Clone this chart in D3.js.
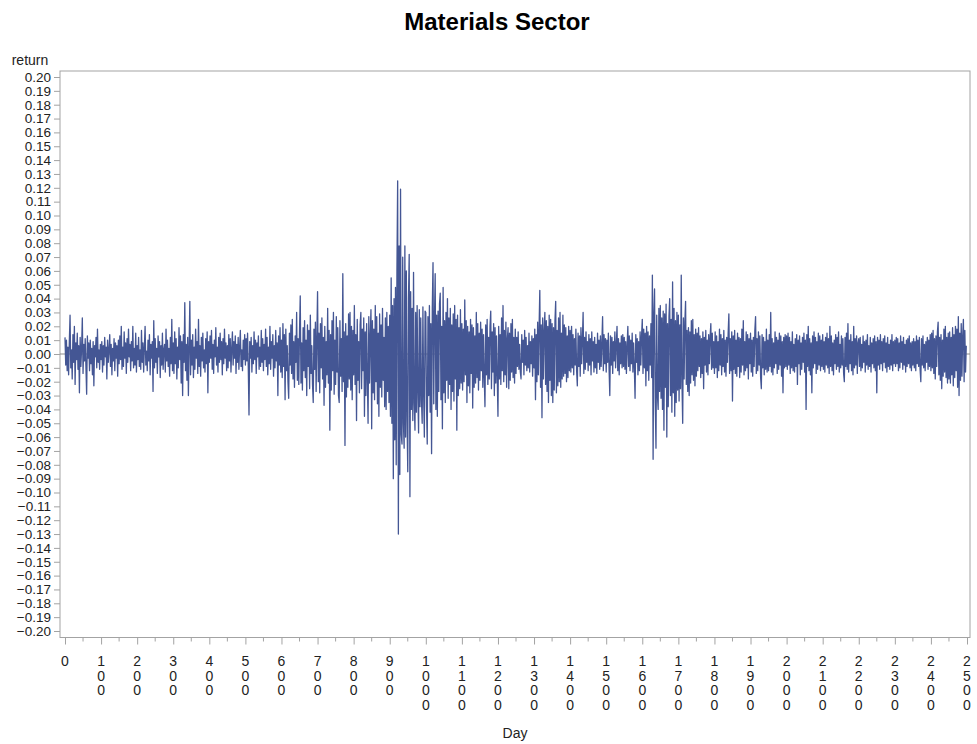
<!DOCTYPE html>
<html>
<head>
<meta charset="utf-8">
<title>Materials Sector</title>
<script src="https://d3js.org/d3.v7.min.js"></script>
<style>
  body { margin: 0; background: #fff; font-family: "Liberation Sans", Arial, sans-serif; }
  .tick text { fill: #222; }
</style>
</head>
<body>
<div id="chart"></div>
<script>
// daily returns, in thousandths, one value every 2 days
const dayStep = 2;
const returnsMilli = [
  12,-8,10,-12,5,-15,9,28,-10,3,-18,14,-6,20,-22,8,-4,15,-11,6,-28,12,-9,4,26,
  -14,7,-5,11,-9,-29,13,-3,8,-12,10,-7,4,-15,9,-23,6,-2,12,-10,18,-6,3,-11,7,
  -4,9,-13,6,-8,12,-2,5,-18,10,-6,3,14,-9,7,-15,4,-5,11,-12,8,-3,6,-16,10,
  -7,13,-4,20,-11,5,-9,16,-3,8,-14,11,-6,18,-2,7,-12,9,-5,20,-10,4,-8,15,-13,
  6,-4,12,-9,3,-11,17,-6,8,-13,5,20,-8,2,-12,10,-5,14,-15,7,-3,9,-27,24,-10,
  11,-6,4,-14,13,-2,9,-17,6,-8,15,-11,3,7,-13,18,-5,10,-9,4,-16,12,-7,25,-12,
  8,-14,16,-7,11,-18,5,-10,19,-4,13,-21,9,-30,14,-6,37,-12,7,-19,12,-30,6,38,-15,
  10,-8,14,-17,5,-11,18,-3,9,-14,25,-9,6,-16,12,-5,15,-10,3,-13,11,-7,16,-28,9,
  -6,13,-3,17,-11,7,-14,10,-2,19,-8,5,-13,12,-6,15,-4,9,-15,11,-7,18,-3,8,-12,
  6,-10,14,-5,11,-13,4,16,-8,9,-3,13,-14,7,-6,12,-11,5,17,-9,3,-12,10,-4,14,
  -8,11,-5,15,-10,-44,9,-3,12,-13,6,-7,16,-4,10,-14,8,-2,13,-11,5,-9,17,-6,11,
  -12,7,-4,18,-9,12,-15,5,-7,20,-11,9,-3,14,-16,6,-10,17,-5,8,-30,13,-8,19,-13,
  10,-17,22,-9,14,-33,18,-12,6,-20,-32,15,-8,21,-14,25,-18,9,-24,13,-6,30,-19,11,-22,
  16,42,-21,8,-26,19,-12,24,-17,10,-30,21,-9,17,-25,28,-14,6,-22,-35,18,-11,23,-27,12,
  45,-20,15,-28,22,-10,26,-18,12,-37,20,-24,9,-15,33,-21,17,-55,14,-26,24,-12,30,-29,10,
  -22,27,-13,19,-30,-35,24,-16,11,-27,58,-20,16,-66,22,-31,13,-24,29,-18,30,-26,20,-33,17,
  -15,35,-22,14,-48,25,-19,9,-28,21,30,-25,18,-12,26,-45,16,-30,22,-17,-50,27,-21,13,32,
  -54,24,-28,18,-33,35,-20,27,-36,15,-45,29,-24,21,-31,33,-19,12,-38,26,-40,30,-27,20,-35,
  28,-45,55,-50,35,-90,40,-62,48,-80,60,125,-130,78,-87,119,-58,-65,70,-50,-68,78,-60,60,-45,
  -85,40,72,-103,45,-40,33,-48,59,-35,-55,30,-42,35,-28,-57,32,-38,26,-33,-50,34,-29,-60,31,
  30,-38,-65,27,-30,35,-42,22,-72,33,66,-36,25,58,-40,28,-45,31,-27,36,44,-33,20,-54,48,
  -28,24,-35,30,-19,40,-32,26,-22,33,-40,21,-27,29,-34,35,-18,25,-55,28,-30,19,-25,32,-21,
  22,-26,18,-20,39,-15,24,-35,20,-23,16,-28,25,-14,21,-39,19,-24,13,-21,30,-17,22,-26,15,
  -19,23,-12,18,-24,14,-17,-38,21,-15,25,-22,12,-18,20,31,-25,16,-13,22,-30,19,-21,13,-16,
  -45,20,-18,14,-22,26,-12,35,-20,17,-15,23,-24,11,19,-25,15,-19,22,-13,25,-17,12,-21,18,
  -14,12,-9,16,-11,7,-13,-18,14,-6,10,-15,17,-8,12,-12,6,-10,15,-13,9,-7,13,-16,11,
  -10,18,-33,14,-20,23,-15,19,46,-24,21,-46,26,-18,17,30,-22,24,-27,20,-35,28,-19,25,-30,
  22,-35,19,-26,24,38,-28,17,-23,26,-20,30,-24,15,-18,28,-16,21,-14,19,-20,13,-17,20,-12,
  17,-13,20,-10,14,-15,11,-8,18,-12,-23,15,-9,13,-16,19,-7,10,30,-14,12,-11,16,-6,9,
  -12,14,-8,11,-15,16,-5,9,-13,12,-10,7,-14,15,-6,10,-11,13,-9,8,27,-12,14,-7,11,
  -13,10,-6,15,-11,-30,13,-8,12,-14,9,-5,16,-10,7,20,-12,11,-15,8,-7,13,-10,14,-9,
  12,-11,9,-14,6,20,-9,13,-12,10,-7,15,-13,8,-10,-32,14,-6,11,-15,9,-12,16,-8,13,
  25,-14,18,-10,15,-23,20,-12,16,-19,13,-8,22,-17,57,-76,30,47,-35,-68,28,-30,-40,33,-27,
  35,-32,26,-40,31,-55,29,-24,36,-60,22,-38,27,40,-30,25,-42,52,-28,33,-45,24,-35,30,-26,
  28,-34,21,-25,57,-20,-50,26,-18,23,38,-22,17,-27,19,-30,16,-21,24,-15,25,-19,14,-23,18,
  -16,15,-12,19,-9,13,-17,11,-14,16,-25,12,-8,17,-13,10,-15,14,-7,12,22,-11,15,-10,9,
  -14,16,-10,13,-17,9,-12,18,-8,14,-15,11,-9,17,-13,10,-16,12,-6,15,29,-14,11,-12,16,
  -34,13,-11,17,-14,10,-16,15,-9,12,-17,11,-13,18,-8,24,-15,9,-12,16,-10,14,-18,11,-7,
  15,-13,10,-16,12,-9,17,27,-14,11,-12,16,-8,13,-17,-25,14,-10,12,-15,9,-11,18,-13,10,
  -12,14,-9,30,-13,11,-15,8,-10,16,-7,12,-14,10,-11,15,-8,13,-16,9,-28,12,-10,14,-9,
  13,-11,15,-8,12,-14,9,-10,16,-12,7,-13,11,-9,14,-22,10,-7,13,-15,8,-11,12,-6,15,
  -13,10,-40,14,-9,20,-12,11,-15,8,-28,13,-10,16,-7,12,-14,9,-11,15,-8,13,-12,10,-9,
  14,-11,9,-13,12,-8,15,-10,11,-14,20,-9,13,-12,8,-15,10,-7,14,-11,12,-9,16,-13,7,
  -10,13,-8,11,-14,-20,12,-9,15,-11,22,-13,10,-7,14,-12,9,-15,20,-10,11,-8,13,-14,8,
  11,-9,12,-12,7,-10,13,-6,9,-13,10,-8,14,-11,6,-9,12,-13,8,-7,11,-10,13,-12,9,
  -28,12,-8,10,-11,14,-7,9,-12,11,-6,13,-10,8,-13,12,-9,7,-11,10,-8,14,-12,9,-7,
  10,-9,12,-7,11,-12,8,-10,13,-6,9,-11,12,-8,7,-13,10,-9,11,-7,13,-10,8,-12,9,
  -8,11,-10,9,-12,13,-7,10,-9,12,-11,-20,11,-8,13,-10,7,-12,9,-6,12,-11,10,-9,14,
  -12,15,-10,17,-14,11,-18,13,-9,16,23,-15,12,-19,14,-25,10,-16,18,-13,20,-17,12,-21,15,
  -18,16,-21,12,-15,19,-23,14,-17,20,-12,18,-24,27,-30,15,-19,22,-16,13,25,-20,17,-13,6
];

const yTicks = d3.range(-20, 21).map(d => d / 100);
const xMajor = d3.range(0, 2501, 100);
const xMinor = d3.range(50, 2500, 100);

const data = returnsMilli.map((v, i) => ({ day: i * dayStep, ret: v / 1000 }));

const width = 977, height = 744;
const frame = { left: 60, right: 970, top: 71, bottom: 637.5 };

const svg = d3.select("#chart").append("svg")
    .attr("width", width)
    .attr("height", height)
    .style("background", "#fff");

const x = d3.scaleLinear().domain([0, 2500]).range([65, 967]);
const y = d3.scaleLinear().domain([-0.2, 0.2]).range([631, 77]);

// title
svg.append("text")
    .attr("x", 497).attr("y", 30)
    .attr("text-anchor", "middle")
    .style("font-size", "24px")
    .style("font-weight", "bold")
    .style("fill", "#000")
    .text("Materials Sector");

// plot frame
svg.append("rect")
    .attr("x", frame.left).attr("y", frame.top)
    .attr("width", frame.right - frame.left)
    .attr("height", frame.bottom - frame.top)
    .attr("fill", "none")
    .attr("stroke", "#a3a3a3")
    .attr("stroke-width", 1);

// y axis
const yAxis = svg.append("g")
    .attr("transform", `translate(${frame.left},0)`)
    .call(d3.axisLeft(y).tickValues(yTicks).tickFormat(d3.format(".2f")).tickSize(6).tickPadding(3));
yAxis.select(".domain").remove();
yAxis.selectAll(".tick line").attr("stroke", "#a3a3a3");
yAxis.selectAll(".tick text")
    .style("font-size", "13.5px")
    .style("font-family", "Liberation Sans, Arial, sans-serif");

svg.append("text")
    .attr("x", 30).attr("y", 65)
    .attr("text-anchor", "middle")
    .style("font-size", "14px")
    .style("fill", "#222")
    .text("return");

// x axis
const xAxis = svg.append("g")
    .attr("transform", `translate(0,${frame.bottom})`)
    .call(d3.axisBottom(x).tickValues(xMajor).tickSize(7).tickFormat(""));
xAxis.select(".domain").remove();
xAxis.selectAll(".tick line").attr("stroke", "#a3a3a3");

svg.append("g")
    .selectAll("line")
    .data(xMinor)
    .join("line")
    .attr("x1", d => x(d)).attr("x2", d => x(d))
    .attr("y1", frame.bottom).attr("y2", frame.bottom + 4)
    .attr("stroke", "#a3a3a3");

// stacked digit labels
const xLabels = svg.append("g")
    .selectAll("text")
    .data(xMajor)
    .join("text")
    .attr("text-anchor", "middle")
    .style("font-size", "14px")
    .style("fill", "#222");
xLabels.each(function(d) {
    const t = d3.select(this);
    String(d).split("").forEach((ch, i) => {
        t.append("tspan")
            .attr("x", x(d))
            .attr("y", 666 + i * 14.7)
            .text(ch);
    });
});

svg.append("text")
    .attr("x", 515).attr("y", 738)
    .attr("text-anchor", "middle")
    .style("font-size", "14px")
    .style("fill", "#222")
    .text("Day");

// zero reference line
svg.append("line")
    .attr("x1", frame.left).attr("x2", frame.right)
    .attr("y1", y(0)).attr("y2", y(0))
    .attr("stroke", "#8c8c8c")
    .attr("stroke-width", 1);

// return series
const line = d3.line()
    .x(d => x(d.day))
    .y(d => y(d.ret));

svg.append("path")
    .datum(data)
    .attr("fill", "none")
    .attr("stroke", "#445694")
    .attr("stroke-width", 1.3)
    .attr("stroke-linejoin", "round")
    .attr("d", line);
</script>
</body>
</html>
